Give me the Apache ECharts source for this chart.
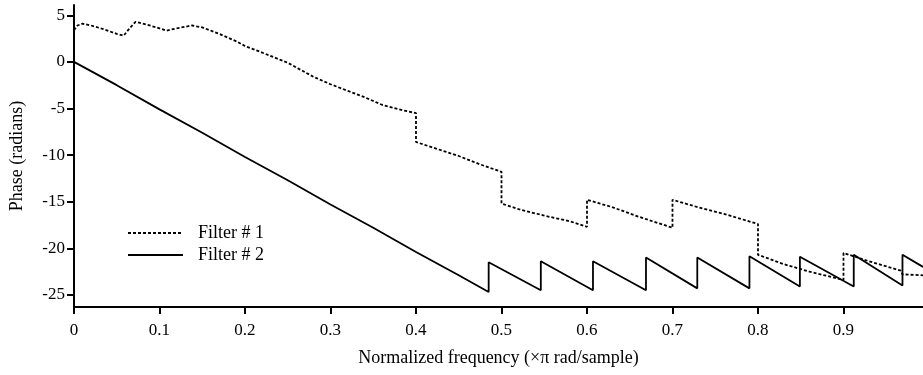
<!DOCTYPE html>
<html>
<head>
<meta charset="utf-8">
<script src="https://cdn.jsdelivr.net/npm/echarts@6/dist/echarts.min.js"></script>
<style>
html,body{margin:0;padding:0;background:#fff;}
#chart{width:923px;height:375px;}
</style>
</head>
<body>
<div id="chart"></div>
<script>
const seriesNames = ['Filter # 1', 'Filter # 2'];

const filter1X = [0, 0.004, 0.01, 0.02, 0.035, 0.05, 0.058, 0.065, 0.072, 0.085, 0.1, 0.108, 0.12, 0.138, 0.15, 0.17, 0.19, 0.2, 0.22, 0.25, 0.28, 0.3, 0.32, 0.34, 0.36, 0.38, 0.4, 0.4, 0.42, 0.45, 0.475, 0.5, 0.5, 0.52, 0.55, 0.58, 0.6, 0.6, 0.63, 0.66, 0.7, 0.7, 0.73, 0.76, 0.8, 0.8, 0.83, 0.86, 0.9, 0.9, 0.93, 0.967, 0.969, 0.993];
const filter1Y = [3.4, 3.9, 4.1, 3.9, 3.5, 3.0, 2.8, 3.6, 4.3, 4.0, 3.6, 3.35, 3.6, 3.9, 3.7, 3.0, 2.2, 1.7, 1.0, -0.1, -1.6, -2.4, -3.1, -3.8, -4.6, -5.1, -5.5, -8.6, -9.2, -10.1, -11.0, -11.8, -15.2, -15.8, -16.5, -17.1, -17.7, -14.8, -15.6, -16.6, -17.8, -14.8, -15.6, -16.3, -17.4, -20.7, -21.7, -22.5, -23.4, -20.5, -21.4, -22.4, -22.8, -22.9];

const filter2X = [0, 0.05, 0.1, 0.15, 0.2, 0.25, 0.3, 0.35, 0.4, 0.45, 0.485, 0.485, 0.546, 0.546, 0.607, 0.607, 0.669, 0.669, 0.729, 0.729, 0.79, 0.79, 0.849, 0.849, 0.912, 0.912, 0.969, 0.969, 0.993];
const filter2Y = [0, -2.5, -5.1, -7.6, -10.2, -12.7, -15.3, -17.8, -20.4, -22.9, -24.7, -21.5, -24.5, -21.4, -24.5, -21.4, -24.5, -21.0, -24.3, -21.0, -24.3, -20.85, -24.1, -20.9, -24.1, -20.7, -24.0, -20.7, -22.0];

const xTickValues = [0, 0.1, 0.2, 0.3, 0.4, 0.5, 0.6, 0.7, 0.8, 0.9];
const xTickLabels = ['0', '0.1', '0.2', '0.3', '0.4', '0.5', '0.6', '0.7', '0.8', '0.9'];
const yTickValues = [-25, -20, -15, -10, -5, 0, 5];
const yTickLabels = ['-25', '-20', '-15', '-10', '-5', '0', '5'];

const xAxisTitle = 'Normalized frequency (\u00d7\u03c0 rad/sample)';
const yAxisTitle = 'Phase (radians)';

function zip(xs, ys) { return xs.map((x, i) => [x, ys[i]]); }
function lookup(vals, labels, v) {
  for (let i = 0; i < vals.length; i++) if (Math.abs(vals[i] - v) < 1e-9) return labels[i];
  return '';
}

const FONT = 'Liberation Serif';
const chart = echarts.init(document.getElementById('chart'), null, {renderer: 'canvas'});
chart.setOption({
  animation: false,
  backgroundColor: '#fff',
  grid: {left: 74, right: 0, top: 5, bottom: 68, containLabel: false},
  legend: {
    left: 127, top: 224, orient: 'vertical', padding: 0,
    itemWidth: 55, itemHeight: 14, itemGap: 4,
    data: seriesNames,
    itemStyle: {opacity: 0},
    textStyle: {fontFamily: FONT, fontSize: 18, color: '#000', padding: [0, 0, 0, 10]}
  },
  xAxis: {
    type: 'value', min: 0, max: 0.993,
    name: xAxisTitle, nameLocation: 'middle', nameGap: 42,
    nameTextStyle: {fontFamily: FONT, fontSize: 18, color: '#000'},
    axisLine: {show: true, onZero: false, lineStyle: {color: '#000', width: 2}},
    axisTick: {show: true, inside: false, length: 7, lineStyle: {color: '#000', width: 2}, customValues: xTickValues},
    axisLabel: {fontFamily: FONT, fontSize: 17, color: '#000', margin: 15, customValues: xTickValues,
      formatter: v => lookup(xTickValues, xTickLabels, v)},
    splitLine: {show: false}
  },
  yAxis: {
    type: 'value', min: -26.3, max: 6.1,
    name: yAxisTitle, nameLocation: 'middle', nameGap: 48,
    nameTextStyle: {fontFamily: FONT, fontSize: 18, color: '#000'},
    axisLine: {show: true, onZero: false, lineStyle: {color: '#000', width: 2}},
    axisTick: {show: true, inside: false, length: 7, lineStyle: {color: '#000', width: 2}, customValues: yTickValues},
    axisLabel: {fontFamily: FONT, fontSize: 17, color: '#000', margin: 9, customValues: yTickValues,
      formatter: v => lookup(yTickValues, yTickLabels, v)},
    splitLine: {show: false}
  },
  series: [
    {
      name: seriesNames[0], type: 'line', symbol: 'none', showSymbol: false,
      data: zip(filter1X, filter1Y),
      lineStyle: {color: '#000', width: 1.8, type: [3, 2]},
      itemStyle: {color: '#000'}
    },
    {
      name: seriesNames[1], type: 'line', symbol: 'none', showSymbol: false,
      data: zip(filter2X, filter2Y),
      lineStyle: {color: '#000', width: 1.8, type: 'solid'},
      itemStyle: {color: '#000'}
    }
  ]
});
</script>
</body>
</html>
